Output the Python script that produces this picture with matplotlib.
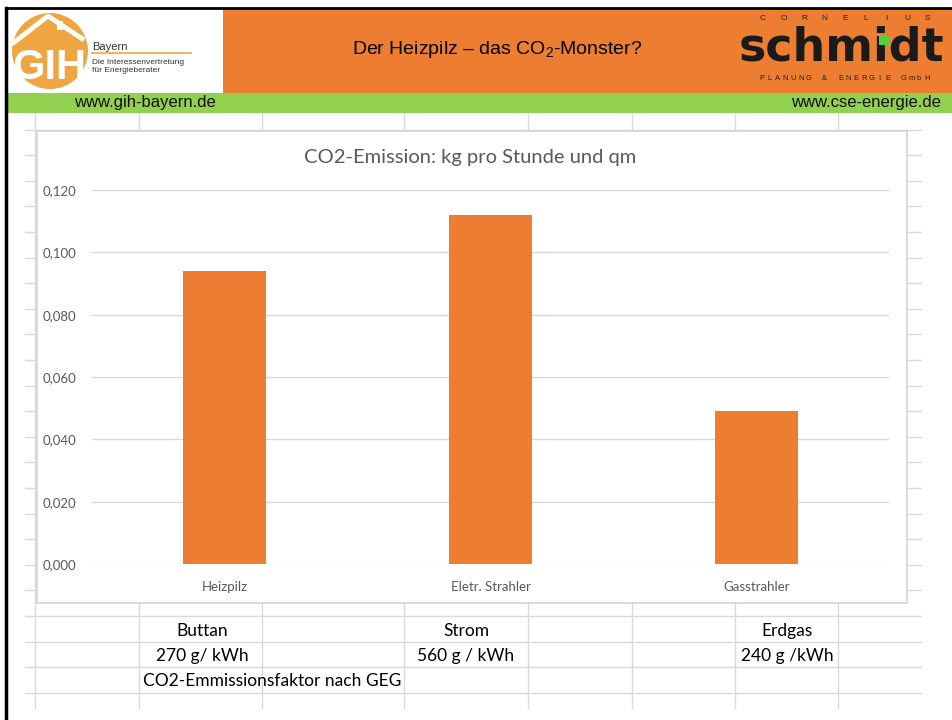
import matplotlib
matplotlib.use("Agg")
import matplotlib.pyplot as plt
from matplotlib.patches import Rectangle, Circle
from matplotlib.ticker import FuncFormatter

plt.rcParams['mathtext.fontset'] = 'custom'
plt.rcParams['mathtext.rm'] = 'Liberation Sans'

# ---- data ----
categories = ["Heizpilz", "Eletr. Strahler", "Gasstrahler"]
values = [0.094, 0.112, 0.049]
y_ticks = [0.0, 0.02, 0.04, 0.06, 0.08, 0.10, 0.12]
chart_title = "CO2-Emission: kg pro Stunde und qm"
header_title = "Der Heizpilz – das CO$_\\mathrm{2}$-Monster?"
fuel_names = ["Buttan", "Strom", "Erdgas"]
fuel_factors = ["270 g/ kWh", "560 g / kWh", "240 g /kWh"]
footnote = "CO2-Emmissionsfaktor nach GEG"

ORANGE = "#ED7D31"
GREEN = "#92D050"
GRID = "#DADADA"
TXT_GRAY = "#595959"

W, H = 953, 720
fig = plt.figure(figsize=(W / 100, H / 100), dpi=100)
fig.patch.set_facecolor("white")

bg = fig.add_axes([0, 0, 1, 1])
bg.set_xlim(0, W)
bg.set_ylim(H, 0)
bg.axis("off")

# ---- spreadsheet grid ----
col_x = [35, 139, 262, 404, 528, 632, 735, 838]
for x in col_x:
    bg.plot([x, x], [113, 708], color=GRID, lw=1, zorder=1)
y = 129.5
while y < 705:
    bg.plot([25, 921], [y, y], color=GRID, lw=1, zorder=1)
    y += 25.6

# ---- chart area ----
bg.add_patch(Rectangle((37, 131), 870, 472, facecolor="white", edgecolor="#D4D4D4", lw=1.2, zorder=2))
bg.text(470, 158, chart_title, ha="center", va="center", fontsize=14.5, color=TXT_GRAY,
        family="Lato", zorder=3)

# ---- header ----
bg.add_patch(Rectangle((223, 8), W - 223, 85, facecolor=ORANGE, edgecolor="none", zorder=2))
bg.add_patch(Rectangle((6, 93), W - 6, 20, facecolor=GREEN, edgecolor="none", zorder=2))
bg.plot([6, W], [8, 8], color="black", lw=2, zorder=4)
bg.plot([6, 6], [8, H], color="black", lw=2.5, zorder=4)
bg.text(497, 50, header_title, ha="center", va="center", fontsize=14, family="Liberation Sans",
        color="black", zorder=3)
bg.text(145, 102, "www.gih-bayern.de", ha="center", va="center", fontsize=12,
        family="Liberation Sans", color="#111111", zorder=3)
bg.text(941, 102, "www.cse-energie.de", ha="right", va="center", fontsize=12,
        family="Liberation Sans", color="#111111", zorder=3)

# GIH logo
LOGO_OR = "#EFA540"
bg.add_patch(Circle((50, 51), 38, facecolor=LOGO_OR, edgecolor="none", zorder=3))
bg.plot([12, 48, 84], [44, 16, 40], color="white", lw=3.5, solid_capstyle="butt", zorder=4)
bg.add_patch(Rectangle((57, 21), 6, 9, facecolor="white", edgecolor="none", zorder=4))
bg.text(49, 68, "GIH", ha="center", va="center", fontsize=30, fontweight="bold",
        family="Liberation Sans", color="white", zorder=5)
bg.text(92, 47, "Bayern", ha="left", va="center", fontsize=8, family="Liberation Sans", color="#333333", zorder=3)
bg.plot([92, 191], [53, 53], color=LOGO_OR, lw=1.2, zorder=3)
bg.text(92, 62, "Die Interessenvertretung", ha="left", va="center", fontsize=6,
        family="Liberation Sans", color="#333333", zorder=3)
bg.text(92, 71, "für Energieberater", ha="left", va="center", fontsize=6,
        family="Liberation Sans", color="#333333", zorder=3)

# Schmidt logo
for i, ch in enumerate("CORNELIUS"):
    bg.text(763 + i * 20.6, 19, ch, ha="center", va="center", fontsize=6,
            family="Liberation Sans", color="#222222", zorder=3)
bg.text(841, 48, "schmidt", ha="center", va="center", fontsize=33, fontweight="heavy",
        family="DejaVu Sans", color="#1A1A1A", zorder=3)
bg.add_patch(Rectangle((879, 35), 11, 10, facecolor="#4CD43C", edgecolor="none", zorder=4))
for i, ch in enumerate("PLANUNG & ENERGIE GmbH"):
    bg.text(762 + i * 7.85, 79, ch, ha="center", va="center", fontsize=5.5,
            family="Liberation Sans", color="#222222", zorder=3)

# ---- bottom table text ----
cx = [202, 466, 787]
for c, n, f in zip(cx, fuel_names, fuel_factors):
    bg.text(c, 631, n, ha="center", va="center", fontsize=12.5, family="Lato", color="black", zorder=3)
    bg.text(c, 656, f, ha="center", va="center", fontsize=12.5, family="Lato", color="black", zorder=3)
bg.text(143, 681, footnote, ha="left", va="center", fontsize=12.5, family="Lato", color="black", zorder=3)

# ---- bar chart ----
ax = fig.add_axes([92 / W, (H - 564) / H, (889 - 92) / W, (564 - 190) / H])
ax.patch.set_alpha(0)
ax.bar(range(len(categories)), values, width=0.312, color=ORANGE, zorder=3)
ax.set_xlim(-0.5, len(categories) - 0.5)
ax.set_ylim(0, 0.12)
ax.set_yticks(y_ticks)
ax.yaxis.set_major_formatter(FuncFormatter(lambda v, p: f"{v:.3f}".replace(".", ",")))
ax.set_xticks(range(len(categories)))
ax.set_xticklabels(categories)
ax.grid(axis="y", color="#D9D9D9", lw=1, zorder=0)
for s in ax.spines.values():
    s.set_visible(False)
ax.tick_params(length=0, labelsize=9.5, labelcolor=TXT_GRAY)
ax.tick_params(axis="y", pad=11)
ax.tick_params(axis="x", pad=12)
for lab in ax.get_xticklabels() + ax.get_yticklabels():
    lab.set_family("Lato")

fig.savefig("out.png", dpi=100)
